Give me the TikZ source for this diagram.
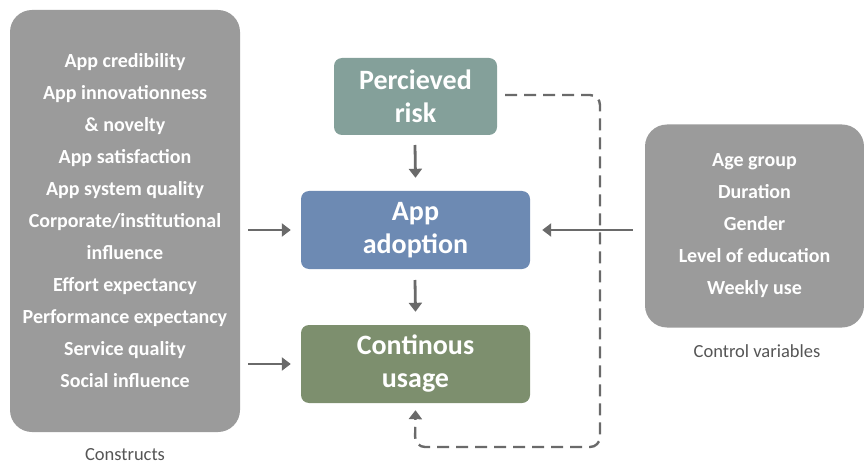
\documentclass[tikz,border=0pt]{standalone}
\usepackage{fontspec}
\setmainfont{Carlito}
\usetikzlibrary{arrows.meta}
\definecolor{boxgray}{HTML}{9B9B9B}
\definecolor{riskc}{HTML}{84A09A}
\definecolor{adoptc}{HTML}{6D8AB3}
\definecolor{usagec}{HTML}{7D8F6E}
\definecolor{arrowc}{HTML}{6A6A6A}
\definecolor{capc}{HTML}{555555}
\tikzset{
  listbox/.style={fill=boxgray, rounded corners=22pt, align=center, text=white,
    font=\bfseries\fontsize{20}{32}\selectfont, inner sep=0pt},
  mainbox/.style={rounded corners=8pt, align=center, text=white,
    font=\bfseries\fontsize{28}{33}\selectfont, inner sep=0pt},
  caption/.style={text=capc, font=\fontsize{18.5}{20}\selectfont},
  conn/.style={draw=arrowc, line width=2.8pt, -{Triangle[length=9pt,width=13pt]}},
  dashconn/.style={draw=arrowc, line width=2.4pt, dash pattern=on 12pt off 7pt, rounded corners=10pt, -{Triangle[length=9pt,width=13pt]}}
}
\begin{document}
\begin{tikzpicture}[x=1pt,y=-1pt]
\useasboundingbox (0,0) rectangle (864,465);
\node[listbox, minimum width=230pt, minimum height=422pt] (cons) at (125,221)
  {App credibility\\App innovationness\\\& novelty\\App satisfaction\\App system quality\\Corporate/institutional\\influence\\Effort expectancy\\Performance expectancy\\Service quality\\Social influence};
\node[caption] (conslab) at (125,455) {Constructs};
\node[listbox, minimum width=219pt, minimum height=203pt] (ctrl) at (754.5,226)
  {Age group\\Duration\\Gender\\Level of education\\Weekly use};
\node[caption] (ctrllab) at (757,351) {Control variables};
\node[mainbox, fill=riskc, minimum width=163pt, minimum height=77pt] (risk) at (415.5,96.5) {Percieved\\risk};
\node[mainbox, fill=adoptc, minimum width=229pt, minimum height=78pt] (adopt) at (415.5,230) {App\\adoption};
\node[mainbox, fill=usagec, minimum width=229pt, minimum height=78pt] (usage) at (415.5,364) {Continous\\usage};
\coordinate (a1s) at (415,145);
\coordinate (a2s) at (415,280);
\draw[conn] (a1s) -- ([yshift=13pt]adopt.north);
\draw[conn] (a2s) -- ([yshift=13pt]usage.north);
\draw[conn] ([xshift=8pt]cons.east |- adopt.west) -- ([xshift=-10pt]adopt.west);
\draw[conn] ([xshift=8pt]cons.east |- usage.west) -- ([xshift=-10pt]usage.west);
\draw[conn] ([xshift=-12pt]ctrl.west |- adopt.east) -- ([xshift=12pt]adopt.east);
\coordinate (d1) at (505,95);
\coordinate (d2) at (600,95);
\coordinate (d3) at (600,447);
\coordinate (d4) at (415,447);
\draw[dashconn] (d1) -- (d2) -- (d3) -- (d4) -- ([yshift=-7pt]usage.south);
\end{tikzpicture}
\end{document}
